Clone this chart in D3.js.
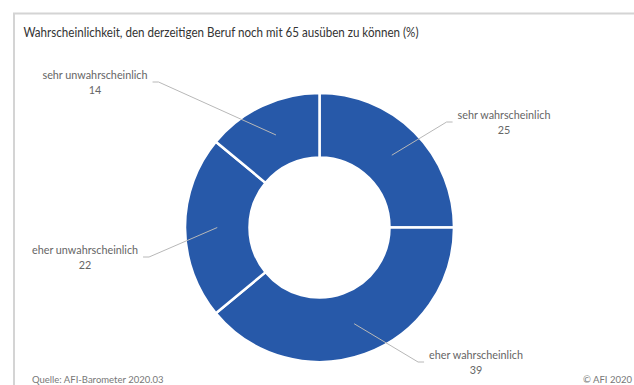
<!DOCTYPE html>
<html><head><meta charset="utf-8">
<script src="https://cdn.jsdelivr.net/npm/d3@7/dist/d3.min.js"></script>
<style>html,body{margin:0;padding:0;background:#fff;}svg{display:block;}</style>
</head><body>
<svg id="chart" width="634" height="385"></svg>
<script>
// ---- data ----
const categories = ["sehr wahrscheinlich", "eher wahrscheinlich", "eher unwahrscheinlich", "sehr unwahrscheinlich"];
const values = [25, 39, 22, 14];
const title = "Wahrscheinlichkeit, den derzeitigen Beruf noch mit 65 ausüben zu können (%)";
const sourceText = "Quelle: AFI-Barometer 2020.03";
const copyrightText = "© AFI 2020";

// ---- layout ----
const W = 634, H = 385;
const cx = 319.5, cy = 227.5, rOuter = 134.5, rInner = 70;
// label anchor offsets relative to centre (layout only)
const labelOffsets = [[184.5, -108.5], [156.5, 131.5], [-234.5, 26.5], [-224.5, -148.5]];
const font = "Lato, 'Open Sans', sans-serif";

const svg = d3.select("#chart");

// frame
svg.append("path")
  .attr("d", `M14,${H} L14,13.5 L${W},13.5`)
  .attr("fill", "none").attr("stroke", "#d4d4d4").attr("stroke-width", 2);

// title
const t = svg.append("text").attr("x", 23.5).attr("y", 37)
  .attr("font-family", font).attr("font-size", 12.5).attr("fill", "#333").text(title);
const tl = t.node().getComputedTextLength();
if (tl > 395) t.attr("textLength", 395).attr("lengthAdjust", "spacingAndGlyphs");

const data = categories.map((c, i) => ({ name: c, value: values[i] }));
const pie = d3.pie().value(d => d.value).sort(null);
const arcs = pie(data);
const arc = d3.arc().innerRadius(rInner).outerRadius(rOuter);
const midArc = d3.arc().innerRadius((rInner + rOuter) / 2).outerRadius((rInner + rOuter) / 2);

const g = svg.append("g").attr("transform", `translate(${cx},${cy})`);
g.selectAll("path.slice").data(arcs).join("path")
  .attr("class", "slice")
  .attr("d", arc)
  .attr("fill", "#2759a9")
  .attr("stroke", "#fff").attr("stroke-width", 2.5).attr("stroke-linejoin", "miter");

// labels + leader lines
arcs.forEach((a, i) => {
  const [ox, oy] = labelOffsets[i];
  const lg = g.append("g");
  const t1 = lg.append("text").attr("x", ox).attr("y", oy).attr("text-anchor", "middle")
    .attr("font-family", font).attr("font-size", 10.8).attr("fill", "#666").text(a.data.name);
  lg.append("text").attr("x", ox).attr("y", oy + 14.5).attr("text-anchor", "middle")
    .attr("font-family", font).attr("font-size", 10.8).attr("fill", "#666").text(a.data.value);
  const hw = t1.node().getComputedTextLength() / 2;
  const c = midArc.centroid(a);
  const side = ox > 0 ? -1 : 1;
  const endX = ox + side * (hw + 5);
  const elbowX = endX + side * 6;
  const y = oy + 3;
  lg.insert("path", "text")
    .attr("d", `M${c[0]},${c[1]} L${elbowX},${y} L${endX},${y}`)
    .attr("fill", "none").attr("stroke", "#b8b8b8").attr("stroke-width", 1);
});

// footer
svg.append("text").attr("x", 32).attr("y", 383)
  .attr("font-family", font).attr("font-size", 9.5).attr("fill", "#777").text(sourceText);
svg.append("text").attr("x", 632).attr("y", 383).attr("text-anchor", "end")
  .attr("font-family", font).attr("font-size", 9.5).attr("fill", "#777").text(copyrightText);
</script>
</body></html>
